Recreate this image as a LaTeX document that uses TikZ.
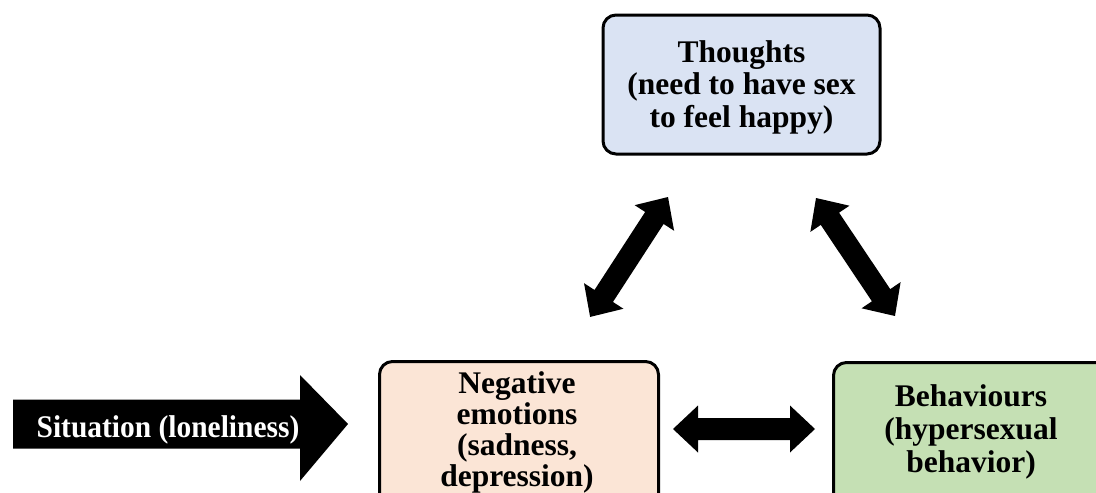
\documentclass[tikz,border=0pt]{standalone}
\usepackage{fontspec}
\setmainfont{Liberation Serif}
% outline of a two-headed block arrow of length #1, lying along the x axis
\newcommand\dblarrowpath[1]{(0,0) -- (25,23.5) -- (25,11) -- ({#1-25},11) -- ({#1-25},23.5) -- (#1,0) -- ({#1-25},-23.5) -- ({#1-25},-11) -- (25,-11) -- (25,-23.5) -- cycle}
\begin{document}
\begin{tikzpicture}[x=1pt,y=-1pt,
  box/.style={draw=black, line width=3pt, rounded corners=13pt, inner sep=0pt},
  boxtext/.style={font=\bfseries\fontsize{31.5}{32.5}\selectfont, align=center, inner sep=0pt},
  blockarrow/.style={fill=black}]
\definecolor{thoughtblue}{RGB}{218,227,243}
\definecolor{emotionpeach}{RGB}{251,229,214}
\definecolor{behaviourgreen}{RGB}{197,224,180}
\useasboundingbox (0,0) rectangle (1096,493);

% the three boxes of the cycle
\node[box, fill=thoughtblue, minimum width=277pt, minimum height=139pt]
  (thoughts) at (741.5,84.5) {};
\node[boxtext] (thoughtstext) at (741.5,87) {Thoughts\\(need to have sex\\to feel happy)};
\node[box, fill=emotionpeach, minimum width=279pt, minimum height=170pt, anchor=north west]
  (emotions) at (378,360) {};
\node[boxtext, font=\bfseries\fontsize{31.5}{31}\selectfont] (emotionstext) at (517,432)
  {Negative\\emotions\\(sadness,\\depression)};
\node[box, fill=behaviourgreen, minimum width=279pt, minimum height=170pt, anchor=north west]
  (behaviours) at (832,361) {};
\node[boxtext, font=\bfseries\fontsize{31.5}{33}\selectfont] (behaviourstext) at (971,431.5)
  {Behaviours\\(hypersexual\\behavior)};

% situation arrow entering the cycle
\fill[blockarrow] (13,399.5) -- (300,399.5) -- (300,375) -- (348,424) -- (300,481)
  -- (300,448.5) -- (13,448.5) -- cycle;
\node[font=\bfseries\fontsize{31.5}{33}\selectfont, text=white, inner sep=0pt, anchor=base]
  (situation) at (168,437) {\scalebox{0.935}[1]{Situation (loneliness)}};

% two-headed arrows between the boxes
\coordinate (tipTE) at (668,197);
\coordinate (tipTB) at (816,198);
\coordinate (tipEB) at (673,429);
\begin{scope}[shift={(tipTE)}, rotate=-123]
  \fill[blockarrow] \dblarrowpath{143};
\end{scope}
\begin{scope}[shift={(tipTB)}, rotate=-56.2]
  \fill[blockarrow] \dblarrowpath{142};
\end{scope}
\begin{scope}[shift={(tipEB)}]
  \fill[blockarrow] \dblarrowpath{142};
\end{scope}
\end{tikzpicture}
\end{document}
